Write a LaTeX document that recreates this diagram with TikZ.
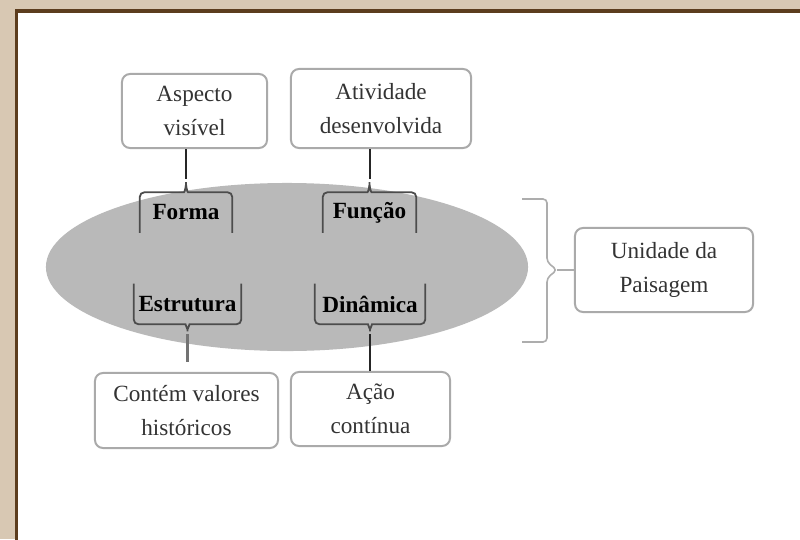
\documentclass[tikz,border=0pt]{standalone}
\usepackage{fontspec}
\setmainfont{Liberation Serif}
\usepackage{tikz}

\definecolor{parchment}{HTML}{D8C8B3}
\definecolor{frame}{HTML}{5C3D1E}
\definecolor{lens}{HTML}{B9B9B9}
\definecolor{boxline}{HTML}{AAAAAA}
\definecolor{inktext}{HTML}{333333}

\begin{document}
\begin{tikzpicture}[x=0.025cm, y=0.025cm]
       \tikzstyle{note} = [rectangle, rounded corners=0.2cm, draw=boxline, line width=0.05cm, align=center, text=inktext, inner sep=0pt, font=\fontsize{16.5}{24}\selectfont]
       \tikzstyle{part} = [rectangle, inner sep=0pt, minimum height=1cm, font=\fontsize{16.5}{20}\selectfont\bfseries]
       \tikzstyle{bracket} = [draw=black!70, line width=0.045cm, rounded corners=0.12cm]
       \tikzstyle{link} = [draw=black!85, line width=0.05cm]
       \tikzstyle{group} = [draw=black!32, line width=0.04cm, rounded corners=0.1cm]

       \useasboundingbox (0,0) rectangle (800,-539);
       \fill[parchment] (0,0) rectangle (800,-539);
       \filldraw[fill=white, draw=frame, line width=0.075cm] (16.5,-11) rectangle (810,-550);
       \fill[lens] (287,-267) ellipse [x radius=6.025cm, y radius=2.1cm];

       \path[] node[note, minimum width=3.625cm, minimum height=1.85cm] (aspecto) at (194.5,-111) {Aspecto\\visível};
       \path[] node[note, minimum width=4.5cm, minimum height=1.975cm] (atividade) at (381,-108.5) {Atividade\\desenvolvida};
       \path[] node[note, minimum width=4.575cm, minimum height=1.875cm] (contem) at (186.5,-410.5) {Contém valores\\históricos};
       \path[] node[note, minimum width=3.975cm, minimum height=1.85cm] (acao) at (370.5,-409) {Ação\\contínua};
       \path[] node[note, minimum width=4.45cm, minimum height=2.1cm] (unidade) at (664,-270) {Unidade da\\Paisagem};

       \path[] node[part, minimum width=2.3cm] (forma) at (186,-212.5) {Forma};
       \path[] node[part, minimum width=2.325cm] (funcao) at (369.5,-212.5) {Função};
       \path[] node[part, minimum width=2.675cm] (estrutura) at (187.5,-304) {Estrutura};
       \path[] node[part, minimum width=2.75cm] (dinamica) at (370,-304) {Dinâmica};

        \foreach \p in {forma,funcao}
        {
          \draw [bracket] (\p.south west) -- (\p.north west) -- ([xshift=-0.17cm]\p.north) to[out=0,in=-90] ([yshift=0.32cm]\p.north) to[out=-90,in=180] ([xshift=0.17cm]\p.north) -- (\p.north east) -- (\p.south east);
        }
        \foreach \p in {estrutura,dinamica}
        {
          \draw [bracket] (\p.north west) -- (\p.south west) -- ([xshift=-0.17cm]\p.south) to[out=0,in=90] ([yshift=-0.25cm]\p.south) to[out=90,in=180] ([xshift=0.17cm]\p.south) -- (\p.south east) -- (\p.north east);
        }

       \draw [link] (aspecto.south -| forma.north) -- ([yshift=0.32cm]forma.north);
       \draw [link] (atividade.south -| funcao.north) -- ([yshift=0.32cm]funcao.north);
       \draw [link, draw=black!55, line width=0.08cm] ([yshift=-0.25cm]estrutura.south) -- ([yshift=0.25cm]estrutura.south |- contem.north);
       \draw [link] ([yshift=-0.25cm]dinamica.south) -- (dinamica.south |- acao.north);

       \coordinate (grp-top) at (522,-199);
       \coordinate (grp-bot) at (522,-342);
       \coordinate (grp-tip) at (557,-270);
       \draw [group] (grp-top) -- (547,-199) -- (547,-262) -- (grp-tip) -- (547,-278) -- (547,-342) -- (grp-bot);
       \draw [group] (grp-tip) -- (unidade.west);

   \end{tikzpicture}
\end{document}
